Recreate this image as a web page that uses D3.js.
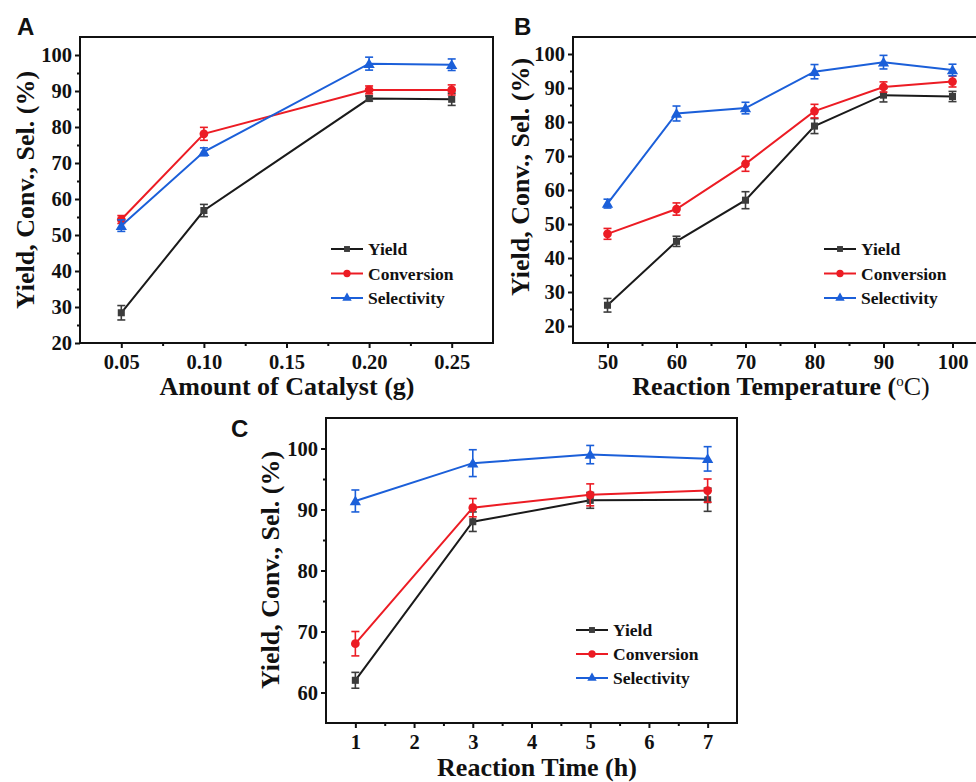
<!DOCTYPE html>
<html>
<head>
<meta charset="utf-8">
<script src="https://cdn.jsdelivr.net/npm/d3@7"></script>
<style>
  body { margin: 0; background: #fff; }
  svg { display: block; }
  text { font-family: "Liberation Serif", "Times New Roman", serif; font-weight: bold; fill: #111; }
</style>
</head>
<body>
<div id="vis"></div>
<script>
const WIDTH = 976;
const HEIGHT = 782;

const seriesNames = ["Yield", "Conversion", "Selectivity"];
const seriesColors = ["#1a1a1a", "#ec1c24", "#1b5fd9"];
const markerColors = ["#3c3c3c", "#ec1c24", "#1b5fd9"];

// panel A - amount of catalyst
const catalystAmount = [0.05, 0.10, 0.20, 0.25];
const catalystYield = [28.4, 56.8, 87.9, 87.7];
const catalystYieldErr = [2.0, 1.7, 0.7, 1.7];
const catalystConv = [54.3, 78.1, 90.3, 90.3];
const catalystConvErr = [1.1, 1.8, 1.1, 1.4];
const catalystSel = [52.6, 73.1, 97.6, 97.3];
const catalystSelErr = [1.6, 1.1, 1.8, 1.6];
const catalystTicks = [0.05, 0.10, 0.15, 0.20, 0.25];

// panel B - reaction temperature
const temperature = [50, 60, 70, 80, 90, 100];
const tempYield = [26.1, 44.9, 57.0, 78.8, 87.9, 87.5];
const tempYieldErr = [2.0, 1.5, 2.5, 2.2, 2.0, 1.5];
const tempConv = [47.1, 54.4, 67.7, 83.2, 90.3, 91.9];
const tempConvErr = [1.6, 1.8, 2.2, 2.0, 1.5, 1.6];
const tempSel = [56.0, 82.5, 84.1, 94.8, 97.6, 95.3];
const tempSelErr = [1.3, 2.2, 1.7, 2.1, 2.0, 1.7];
const temperatureTicks = [50, 60, 70, 80, 90, 100];

// panel C - reaction time
const reactionTime = [1, 3, 5, 7];
const timeYield = [62.0, 88.0, 91.5, 91.6];
const timeYieldErr = [1.3, 1.6, 1.3, 1.9];
const timeConv = [68.0, 90.3, 92.4, 93.1];
const timeConvErr = [2.0, 1.5, 1.8, 1.9];
const timeSel = [91.4, 97.6, 99.0, 98.3];
const timeSelErr = [1.8, 2.2, 1.5, 2.0];
const timeTicks = [1, 2, 3, 4, 5, 6, 7];

const svg = d3
  .select("#vis")
  .append("svg")
  .attr("width", WIDTH)
  .attr("height", HEIGHT);

svg.append("rect").attr("width", WIDTH).attr("height", HEIGHT).attr("fill", "#fff");

const symbols = [d3.symbolSquare, d3.symbolCircle, d3.symbolTriangle];
const symbolSizes = [50, 60, 55];

function drawPanel(p) {
  const x = d3.scaleLinear().domain(p.xDomain).range([p.left, p.right]);
  const y = d3.scaleLinear().domain(p.yDomain).range([p.bottom, p.top]);
  const g = svg.append("g");

  // frame
  g.append("rect")
    .attr("x", p.left)
    .attr("y", p.top)
    .attr("width", p.right - p.left)
    .attr("height", p.bottom - p.top)
    .attr("fill", "none")
    .attr("stroke", "#111")
    .attr("stroke-width", 2);

  // minor ticks
  g.append("g")
    .attr("transform", `translate(0,${p.bottom})`)
    .call(d3.axisBottom(x).tickValues(p.xMinor).tickSize(3).tickFormat("").tickSizeOuter(0))
    .call((a) => a.select(".domain").remove())
    .call((a) => a.selectAll("line").attr("stroke", "#111").attr("stroke-width", 2));
  g.append("g")
    .attr("transform", `translate(${p.left},0)`)
    .call(d3.axisLeft(y).tickValues(p.yMinor).tickSize(3).tickFormat("").tickSizeOuter(0))
    .call((a) => a.select(".domain").remove())
    .call((a) => a.selectAll("line").attr("stroke", "#111").attr("stroke-width", 2));

  // major ticks
  const xAxis = g.append("g")
    .attr("transform", `translate(0,${p.bottom})`)
    .call(d3.axisBottom(x).tickValues(p.xTicks).tickSize(5).tickPadding(6).tickSizeOuter(0).tickFormat(p.xFormat));
  const yAxis = g.append("g")
    .attr("transform", `translate(${p.left},0)`)
    .call(d3.axisLeft(y).tickValues(p.yTicks).tickSize(5).tickPadding(3).tickSizeOuter(0));
  [xAxis, yAxis].forEach((a) => {
    a.select(".domain").remove();
    a.selectAll("line").attr("stroke", "#111").attr("stroke-width", 2);
    a.selectAll("text")
      .attr("fill", "#111")
      .style("font-family", '"Liberation Serif", serif')
      .style("font-weight", "bold")
      .style("font-size", "20.5px");
  });

  // series
  p.series.forEach((s, i) => {
    const pts = p.xs.map((xv, j) => ({ x: xv, y: s.values[j], e: s.errs[j] }));
    g.append("path")
      .datum(pts)
      .attr("fill", "none")
      .attr("stroke", seriesColors[i])
      .attr("stroke-width", 2)
      .attr("d", d3.line().x((d) => x(d.x)).y((d) => y(d.y)));

    const eb = g.append("g").attr("stroke", markerColors[i]).attr("stroke-width", 1.6);
    pts.forEach((d) => {
      const cx = x(d.x);
      eb.append("line").attr("x1", cx).attr("x2", cx).attr("y1", y(d.y - d.e)).attr("y2", y(d.y + d.e));
      eb.append("line").attr("x1", cx - 4).attr("x2", cx + 4).attr("y1", y(d.y - d.e)).attr("y2", y(d.y - d.e));
      eb.append("line").attr("x1", cx - 4).attr("x2", cx + 4).attr("y1", y(d.y + d.e)).attr("y2", y(d.y + d.e));
    });

    g.selectAll(null)
      .data(pts)
      .enter()
      .append("path")
      .attr("d", d3.symbol().type(symbols[i]).size(symbolSizes[i]))
      .attr("transform", (d) => `translate(${x(d.x)},${y(d.y) + (i === 2 ? 1 : 0)})`)
      .attr("fill", markerColors[i]);
  });

  // legend
  seriesNames.forEach((name, i) => {
    const ly = p.legend.y + i * p.legend.step;
    g.append("line")
      .attr("x1", p.legend.x)
      .attr("x2", p.legend.x + 32)
      .attr("y1", ly)
      .attr("y2", ly)
      .attr("stroke", seriesColors[i])
      .attr("stroke-width", 2);
    g.append("path")
      .attr("d", d3.symbol().type(symbols[i]).size(symbolSizes[i] * 0.7))
      .attr("transform", `translate(${p.legend.x + 16},${ly})`)
      .attr("fill", markerColors[i]);
    g.append("text")
      .attr("x", p.legend.x + 37)
      .attr("y", ly + 6)
      .style("font-size", "17.5px")
      .text(name);
  });

  // titles
  const xt = g.append("text")
    .attr("x", p.xTitle.x)
    .attr("y", p.xTitle.y)
    .attr("text-anchor", "middle")
    .style("font-size", "26px");
  p.xTitle.parts.forEach((part) => {
    xt.append("tspan")
      .attr("dy", part.dy || 0)
      .style("font-size", part.size || null)
      .style("font-weight", part.weight || null)
      .text(part.t);
  });

  g.append("text")
    .attr("transform", `translate(${p.yTitle.x},${p.yTitle.y}) rotate(-90)`)
    .attr("text-anchor", "middle")
    .attr("dy", "0.35em")
    .style("font-size", "26px")
    .text("Yield, Conv., Sel. (%)");

  g.append("text")
    .attr("x", p.letter.x)
    .attr("y", p.letter.y)
    .style("font-family", '"Liberation Sans", Arial, sans-serif')
    .style("font-size", "24px")
    .text(p.letter.t);
}

drawPanel({
  left: 80, right: 493, top: 37, bottom: 343,
  xDomain: [0.025, 0.275], yDomain: [20, 105],
  xTicks: catalystTicks, xMinor: [0.075, 0.125, 0.175, 0.225],
  yTicks: d3.range(20, 101, 10), yMinor: d3.range(25, 100, 10),
  xFormat: d3.format(".2f"),
  xs: catalystAmount,
  series: [
    { values: catalystYield, errs: catalystYieldErr },
    { values: catalystConv, errs: catalystConvErr },
    { values: catalystSel, errs: catalystSelErr },
  ],
  legend: { x: 331, y: 249, step: 24.5 },
  xTitle: { x: 287, y: 395, parts: [{ t: "Amount of Catalyst (g)" }] },
  yTitle: { x: 25, y: 190 },
  letter: { x: 17, y: 35, t: "A" },
});

drawPanel({
  left: 573, right: 987, top: 37, bottom: 343,
  xDomain: [45, 105], yDomain: [15, 105],
  xTicks: temperatureTicks, xMinor: [55, 65, 75, 85, 95],
  yTicks: d3.range(20, 101, 10), yMinor: d3.range(25, 100, 10),
  xFormat: d3.format("d"),
  xs: temperature,
  series: [
    { values: tempYield, errs: tempYieldErr },
    { values: tempConv, errs: tempConvErr },
    { values: tempSel, errs: tempSelErr },
  ],
  legend: { x: 824, y: 249, step: 24.5 },
  xTitle: {
    x: 781, y: 395,
    parts: [
      { t: "Reaction Temperature (" },
      { t: "o", dy: -9, size: "15px", weight: "normal" },
      { t: "C)", dy: 9, weight: "normal" },
    ],
  },
  yTitle: { x: 520, y: 177 },
  letter: { x: 514, y: 35, t: "B" },
});

drawPanel({
  left: 326, right: 737, top: 418, bottom: 723,
  xDomain: [0.5, 7.5], yDomain: [55, 105],
  xTicks: timeTicks, xMinor: d3.range(1.5, 7, 1),
  yTicks: d3.range(60, 101, 10), yMinor: d3.range(65, 100, 10),
  xFormat: d3.format("d"),
  xs: reactionTime,
  series: [
    { values: timeYield, errs: timeYieldErr },
    { values: timeConv, errs: timeConvErr },
    { values: timeSel, errs: timeSelErr },
  ],
  legend: { x: 576, y: 630, step: 24 },
  xTitle: { x: 537, y: 776, parts: [{ t: "Reaction Time (h)" }] },
  yTitle: { x: 270, y: 570 },
  letter: { x: 231, y: 437, t: "C" },
});
</script>
</body>
</html>
